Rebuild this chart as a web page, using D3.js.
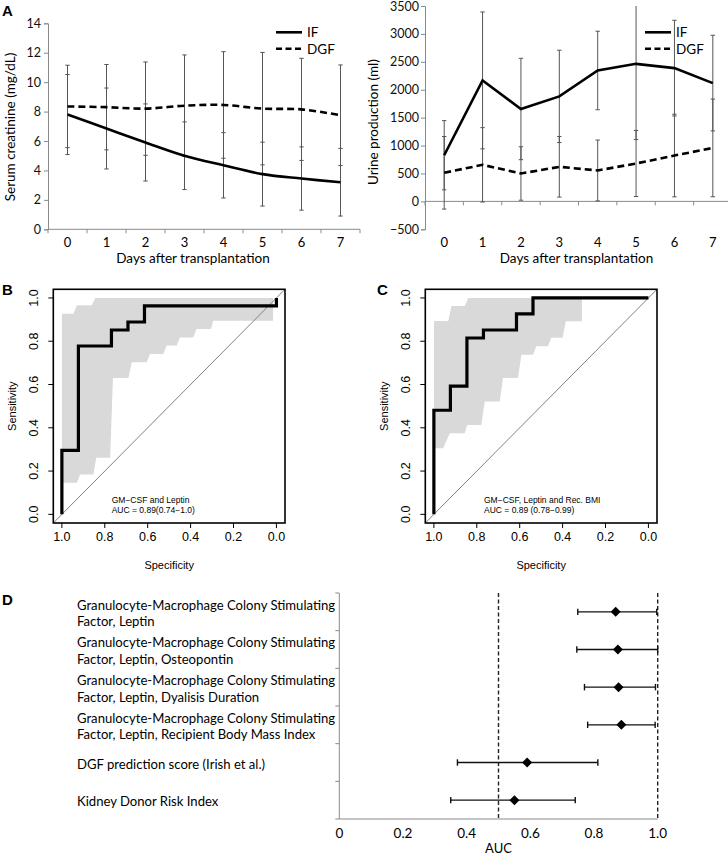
<!DOCTYPE html>
<html><head><meta charset="utf-8">
<script src="https://cdn.jsdelivr.net/npm/d3@7/dist/d3.min.js"></script>
<style>body{margin:0;background:#fff}svg{display:block}</style>
</head><body>
<svg id="c" width="728" height="857"></svg>
<script>
// ---------- DATA ----------
const days = [0, 1, 2, 3, 4, 5, 6, 7];
const creatIF     = [7.8, 6.85, 5.9, 5.0, 4.35, 3.75, 3.45, 3.2];
const creatIFsd   = [2.72, 2.75, 2.62, 2.3, 2.22, 2.17, 2.15, 2.3];
const creatDGF    = [8.35, 8.3, 8.2, 8.4, 8.45, 8.2, 8.15, 7.75];
const creatDGFsd  = [2.8, 2.9, 3.17, 3.45, 3.62, 3.82, 3.47, 3.42];
const creatTicks  = [0, 2, 4, 6, 8, 10, 12, 14];

const urineIF     = [827, 2167, 1655, 1881, 2345, 2464, 2387, 2119];
const urineIFsd   = [620, 1226, 908, 827, 703, 1357, 857, 857];
const urineDGF    = [512, 655, 500, 619, 554, 679, 821, 958];
const urineDGFsd  = [650, 666, 479, 542, 545, 592, 740, 875];
const urineTicks  = [-500, 0, 500, 1000, 1500, 2000, 2500, 3000, 3500];

const seriesNames = ["IF", "DGF"];

// ROC B (specificity, sensitivity)
const rocBSpec = [1, 1, 0.923, 0.923, 0.769, 0.769, 0.692, 0.692, 0.615, 0.615, 0, 0];
const rocBSens = [0, 0.296, 0.296, 0.778, 0.778, 0.852, 0.852, 0.889, 0.889, 0.963, 0.963, 1];
const bandBUpSpec = [1, 0.946, 0.93, 0.86, 0.845, 0.0155];
const bandBUpSens = [0.927, 0.927, 0.966, 0.966, 1, 1];
const bandBLoSpec = [1, 0.93, 0.915, 0.853, 0.84, 0.775, 0.762, 0.69, 0.674, 0.605, 0.589, 0.527, 0.512, 0.465, 0.45, 0.388, 0.372, 0.305, 0.295, 0.0155];
const bandBLoSens = [0.146, 0.146, 0.184, 0.184, 0.262, 0.262, 0.63, 0.63, 0.703, 0.703, 0.741, 0.741, 0.78, 0.78, 0.817, 0.817, 0.856, 0.856, 0.895, 0.895];
const rocBText = ["GM\u2212CSF and Leptin", "AUC = 0.89(0.74\u22121.0)"];

// ROC C
const rocCSpec = [1, 1, 0.923, 0.923, 0.846, 0.846, 0.769, 0.769, 0.615, 0.615, 0.538, 0.538, 0];
const rocCSens = [0, 0.481, 0.481, 0.593, 0.593, 0.815, 0.815, 0.852, 0.852, 0.926, 0.926, 1, 1];
const bandCUpSpec = [1, 0.933, 0.918, 0.856, 0.84, 0.31];
const bandCUpSens = [0.893, 0.893, 0.963, 0.963, 1, 1];
const bandCLoSpec = [1, 0.957, 0.926, 0.856, 0.845, 0.779, 0.763, 0.693, 0.678, 0.608, 0.592, 0.538, 0.523, 0.468, 0.453, 0.40, 0.385, 0.31];
const bandCLoSens = [0.305, 0.305, 0.375, 0.375, 0.413, 0.413, 0.522, 0.522, 0.63, 0.63, 0.738, 0.738, 0.777, 0.777, 0.816, 0.816, 0.892, 0.892];
const rocCText = ["GM\u2212CSF, Leptin and Rec. BMI", "AUC = 0.89 (0.78\u22120.99)"];
const rocTicks = [1.0, 0.8, 0.6, 0.4, 0.2, 0.0];

// Panel D
const modelLabels = [
  ["Granulocyte-Macrophage Colony Stimulating", "Factor, Leptin"],
  ["Granulocyte-Macrophage Colony Stimulating", "Factor, Leptin, Osteopontin"],
  ["Granulocyte-Macrophage Colony Stimulating", "Factor, Leptin, Dyalisis Duration"],
  ["Granulocyte-Macrophage Colony Stimulating", "Factor, Leptin, Recipient Body Mass Index"],
  ["DGF prediction score (Irish et al.)"],
  ["Kidney Donor Risk Index"]
];
const aucVal  = [0.868, 0.875, 0.877, 0.886, 0.590, 0.550];
const aucLow  = [0.749, 0.746, 0.770, 0.780, 0.371, 0.350];
const aucHigh = [0.997, 1.000, 0.993, 0.992, 0.812, 0.741];
const aucTicks = [0, 0.2, 0.4, 0.6, 0.8, 1.0];
const aucRefs = [0.5, 1.0];

// ---------- DRAW ----------
const svg = d3.select("#c");
const FA = "Lato, 'Open Sans', sans-serif";
const FR = "'Liberation Sans', Arial, sans-serif";

function panelLetter(t, x, y) {
  svg.append("text").attr("x", x).attr("y", y).text(t)
    .attr("font-family", FR).attr("font-weight", "bold").attr("font-size", 15);
}

function panelA(o) {
  const g = svg.append("g");
  const x = d3.scaleBand().domain(days).range(o.xr);
  const y = d3.scaleLinear().domain(o.yd).range(o.yr);
  const cx = d => x(d) + x.bandwidth() / 2;
  const axisC = "#8a8a8a";
  const ya = g.append("g").attr("transform", `translate(${o.xr[0]},0)`)
    .call(d3.axisLeft(y).tickValues(o.ticks).tickSize(4).tickPadding(o.pad).tickFormat(d3.format("d")));
  ya.select(".domain").attr("stroke", axisC);
  ya.selectAll(".tick line").attr("stroke", axisC);
  ya.selectAll("text").attr("font-family", FA).attr("font-size", 12.5).attr("fill", "#111");
  const y0 = y(0);
  g.append("line").attr("x1", o.xr[0]).attr("x2", o.xr[1]).attr("y1", y0).attr("y2", y0).attr("stroke", axisC);
  const bounds = days.map(d => x(d)).concat([o.xr[1]]);
  g.selectAll(".xt").data(bounds).join("line")
    .attr("x1", d => d).attr("x2", d => d).attr("y1", y0).attr("y2", y0 + 4).attr("stroke", axisC);
  g.selectAll(".xl").data(days).join("text")
    .attr("x", cx).attr("y", 242).attr("dy", "0.35em").attr("text-anchor", "middle")
    .attr("font-family", FA).attr("font-size", 13).text(d => d);
  g.append("text").attr("x", (o.xr[0] + Math.min(o.xr[1], 728)) / 2 + o.xlOff).attr("y", 258).attr("dy", "0.35em")
    .attr("text-anchor", "middle").attr("font-family", FA).attr("font-size", 13.5).text("Days after transplantation");
  g.append("text").attr("transform", `translate(${o.ylx},${o.yly}) rotate(-90)`).attr("dy", "0.35em")
    .attr("text-anchor", "middle").attr("font-family", FA).attr("font-size", 13.5).text(o.ylabel);
  const [lo, hi] = o.yd;
  [[o.m1, o.s1], [o.m2, o.s2]].forEach(([m, s]) => {
    days.forEach((d, i) => {
      const a = m[i] - s[i], b = m[i] + s[i];
      const ya1 = y(Math.max(a, lo)), yb1 = y(Math.min(b, hi));
      g.append("line").attr("x1", cx(d)).attr("x2", cx(d)).attr("y1", ya1).attr("y2", yb1)
        .attr("stroke", "#555").attr("stroke-width", 1);
      if (a >= lo) g.append("line").attr("x1", cx(d) - 2.2).attr("x2", cx(d) + 2.2).attr("y1", ya1).attr("y2", ya1).attr("stroke", "#555");
      if (b <= hi) g.append("line").attr("x1", cx(d) - 2.2).attr("x2", cx(d) + 2.2).attr("y1", yb1).attr("y2", yb1).attr("stroke", "#555");
    });
  });
  const line = d3.line().x((d, i) => cx(days[i])).y(d => y(d)).curve(o.curve);
  g.append("path").attr("d", line(o.m1)).attr("fill", "none").attr("stroke", "#000").attr("stroke-width", 2.6);
  g.append("path").attr("d", line(o.m2)).attr("fill", "none").attr("stroke", "#000").attr("stroke-width", 2.6)
    .attr("stroke-dasharray", "7,4");
  seriesNames.forEach((n, i) => {
    const ly = o.leg[1] + i * 16.5;
    g.append("line").attr("x1", o.leg[0]).attr("x2", o.leg[0] + 26).attr("y1", ly).attr("y2", ly)
      .attr("stroke", "#000").attr("stroke-width", 2.6).attr("stroke-dasharray", i ? "6,3.5" : null);
    g.append("text").attr("x", o.leg[0] + 31).attr("y", ly).attr("dy", "0.35em")
      .attr("font-family", FA).attr("font-size", 13.5).text(n);
  });
}

panelA({xr: [48, 360], yd: [0, 14], yr: [229.3, 23.3], ticks: creatTicks, pad: 3,
  m1: creatIF, s1: creatIFsd, m2: creatDGF, s2: creatDGFsd, curve: d3.curveCatmullRom,
  ylabel: "Serum creatinine (mg/dL)", ylx: 10, yly: 127, xlOff: -11, leg: [276, 32.3]});
panelA({xr: [425, 732], yd: [-500, 3500], yr: [229.3, 6], ticks: urineTicks, pad: 2,
  m1: urineIF, s1: urineIFsd, m2: urineDGF, s2: urineDGFsd, curve: d3.curveLinear,
  ylabel: "Urine production (ml)", ylx: 373, yly: 122, xlOff: 0, leg: [645, 32.3]});
panelLetter("A", 2, 16);

function panelROC(o) {
  const g = svg.append("g");
  const x = d3.scaleLinear().domain([1.04, -0.04]).range([o.bl, o.br]);
  const y = d3.scaleLinear().domain([-0.04, 1.04]).range([523, 289.3]);
  const up = o.upSpec.map((s, i) => [x(s), y(o.upSens[i])]);
  const lo = o.loSpec.map((s, i) => [x(s), y(o.loSens[i])]).reverse();
  g.append("path").attr("d", d3.line()(up.concat(lo)) + "Z").attr("fill", "#d9d9d9").attr("stroke", "none");
  g.append("line").attr("x1", x(1.04)).attr("y1", y(-0.04)).attr("x2", x(-0.04)).attr("y2", y(1.04))
    .attr("stroke", "#808080").attr("stroke-width", 1);
  const pts = o.spec.map((s, i) => [x(s), y(o.sens[i])]);
  g.append("path").attr("d", d3.line()(pts)).attr("fill", "none").attr("stroke", "#000")
    .attr("stroke-width", 3.2).attr("stroke-linejoin", "miter");
  g.append("rect").attr("x", o.bl).attr("y", 289.3).attr("width", o.br - o.bl).attr("height", 523 - 289.3)
    .attr("fill", "none").attr("stroke", "#000").attr("stroke-width", 1.6);
  rocTicks.forEach(t => {
    g.append("line").attr("x1", x(t)).attr("x2", x(t)).attr("y1", 523).attr("y2", 528).attr("stroke", "#000");
    g.append("text").attr("x", x(t)).attr("y", 537).attr("dy", "0.35em").attr("text-anchor", "middle")
      .attr("font-family", FR).attr("font-size", 12.5).text(t.toFixed(1));
    g.append("line").attr("x1", o.bl).attr("x2", o.bl - 5).attr("y1", y(t)).attr("y2", y(t)).attr("stroke", "#000");
    g.append("text").attr("transform", `translate(${o.bl - 20},${y(t)}) rotate(-90)`).attr("dy", "0.35em")
      .attr("text-anchor", "middle").attr("font-family", FR).attr("font-size", 12.5).text(t.toFixed(1));
  });
  g.append("text").attr("x", (o.bl + o.br) / 2).attr("y", 565).attr("dy", "0.35em").attr("text-anchor", "middle")
    .attr("font-family", FR).attr("font-size", 11).text("Specificity");
  g.append("text").attr("transform", `translate(${o.bl - 41},${(289.3 + 523) / 2}) rotate(-90)`).attr("dy", "0.35em")
    .attr("text-anchor", "middle").attr("font-family", FR).attr("font-size", 11).text("Sensitivity");
  o.text.forEach((t, i) => {
    g.append("text").attr("x", o.tx).attr("y", 500 + i * 10).attr("dy", "0.35em")
      .attr("font-family", FR).attr("font-size", 8.5).text(t);
  });
}

panelROC({bl: 53.3, br: 285, spec: rocBSpec, sens: rocBSens, upSpec: bandBUpSpec, upSens: bandBUpSens,
  loSpec: bandBLoSpec, loSens: bandBLoSens, text: rocBText, tx: 111.7});
panelROC({bl: 425.3, br: 657, spec: rocCSpec, sens: rocCSens, upSpec: bandCUpSpec, upSens: bandCUpSens,
  loSpec: bandCLoSpec, loSens: bandCLoSens, text: rocCText, tx: 484});
panelLetter("B", 2, 295);
panelLetter("C", 377, 295);

// Panel D
(function () {
  const g = svg.append("g");
  const x = d3.scaleLinear().domain([0, 1]).range([339.3, 657.7]);
  const y = d3.scaleBand().domain(d3.range(modelLabels.length)).range([593, 819]);
  const axisC = "#8a8a8a";
  g.append("line").attr("x1", x(0)).attr("x2", x(0)).attr("y1", 593).attr("y2", 819).attr("stroke", axisC);
  g.append("line").attr("x1", x(0)).attr("x2", x(1)).attr("y1", 819).attr("y2", 819).attr("stroke", axisC);
  const bnds = d3.range(modelLabels.length).map(i => y(i)).concat([819]);
  bnds.forEach(b => g.append("line").attr("x1", x(0) - 4).attr("x2", x(0)).attr("y1", b).attr("y2", b).attr("stroke", axisC));
  aucTicks.forEach(t => {
    g.append("text").attr("x", x(t)).attr("y", 833).attr("dy", "0.35em").attr("text-anchor", "middle")
      .attr("font-family", FA).attr("font-size", 13.5).text(t === 0 ? "0" : t.toFixed(1));
  });
  g.append("text").attr("x", (x(0) + x(1)) / 2).attr("y", 848).attr("dy", "0.35em").attr("text-anchor", "middle")
    .attr("font-family", FA).attr("font-size", 13).text("AUC");
  aucRefs.forEach(r => g.append("line").attr("x1", x(r)).attr("x2", x(r)).attr("y1", 593).attr("y2", 819)
    .attr("stroke", "#222").attr("stroke-width", 1.4).attr("stroke-dasharray", "4,2.5"));
  modelLabels.forEach((lab, i) => {
    const c = y(i) + y.bandwidth() / 2;
    g.append("line").attr("x1", x(aucLow[i])).attr("x2", x(aucHigh[i])).attr("y1", c).attr("y2", c)
      .attr("stroke", "#111").attr("stroke-width", 1.4);
    [aucLow[i], aucHigh[i]].forEach(v => g.append("line").attr("x1", x(v)).attr("x2", x(v))
      .attr("y1", c - 3.2).attr("y2", c + 3.2).attr("stroke", "#111").attr("stroke-width", 1.4));
    g.append("path").attr("d", d3.symbol(d3.symbolSquare, 50)())
      .attr("transform", `translate(${x(aucVal[i])},${c}) rotate(45)`).attr("fill", "#000");
    const n = lab.length;
    lab.forEach((t, j) => {
      g.append("text").attr("x", 77).attr("y", c + 1.5 + (j - (n - 1) / 2) * 16.7).attr("dy", "0.35em")
        .attr("font-family", FA).attr("font-size", 13.1).text(t);
    });
  });
})();
panelLetter("D", 2, 605);
</script>
</body></html>
